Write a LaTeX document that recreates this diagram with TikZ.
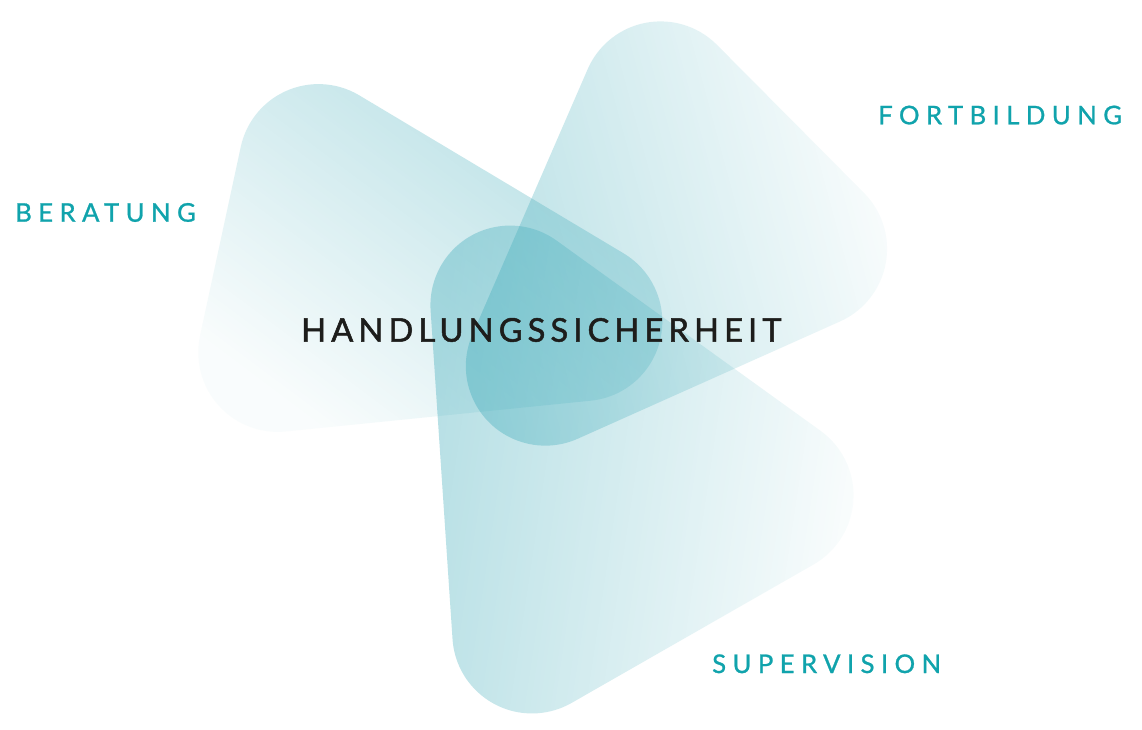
\documentclass[tikz,border=0pt]{standalone}
\usepackage{fontspec}
\setmainfont{Lato}
\newfontfamily\labelfont[LetterSpace=25, FakeBold=1]{Lato}
\newfontfamily\centrefont[LetterSpace=15.5, FakeBold=1.5]{Lato}
\usetikzlibrary{calc,fadings}

\definecolor{tealLabel}{RGB}{16,163,172}
\definecolor{darkText}{RGB}{29,29,27}
\definecolor{tealFill}{RGB}{60,170,185}

\tikzfading[name=fadeout, top color=transparent!0, bottom color=transparent!92]

% rounded triangle round three corner centres (counter-clockwise), radius #4
\newcommand{\rtri}[4]{
  let \p1=(#1), \p2=(#2), \p3=(#3),
      \n1={atan2(\y2-\y1,\x2-\x1)}, \n2={atan2(\y3-\y2,\x3-\x2)},
      \n3={atan2(\y1-\y3,\x1-\x3)},
      \n4={mod(\n1-\n3+720,360)}, \n5={mod(\n2-\n1+720,360)},
      \n6={mod(\n3-\n2+720,360)}
  in ($(\p1)+(\n3-90:#4)$) arc[start angle=\n3-90, delta angle=\n4, radius=#4]
  -- ($(\p2)+(\n1-90:#4)$) arc[start angle=\n1-90, delta angle=\n5, radius=#4]
  -- ($(\p3)+(\n2-90:#4)$) arc[start angle=\n2-90, delta angle=\n6, radius=#4]
  -- cycle}

\begin{document}
\begin{tikzpicture}[x=1pt,y=1pt,
    blob/.style={fill=tealFill, fill opacity=0.37, path fading=fadeout},
    lbl/.style={anchor=base west, inner sep=0pt, text=tealLabel,
                font=\labelfont\fontsize{25.7}{30}\selectfont},
    centre/.style={anchor=base west, inner sep=0pt, text=darkText,
                font=\centrefont\fontsize{32.7}{38}\selectfont}]

  \fill[white] (0,0) rectangle (1142,-730);
  \useasboundingbox (0,0) rectangle (1142,-730);

  % corner centres
  \coordinate (b1) at (322,-163);
  \coordinate (b2) at (281,-353);
  \coordinate (b3) at (588,-322);
  \coordinate (f1) at (657,-98);
  \coordinate (f2) at (541,-365);
  \coordinate (f3) at (805,-247);
  \coordinate (s1) at (508,-302);
  \coordinate (s2) at (530,-632);
  \coordinate (s3) at (773,-493);

  \fill[blob, fading angle=-45] \rtri{b1}{b2}{b3}{80pt};
  \fill[blob, fading angle=105] \rtri{f1}{f2}{f3}{80pt};
  \fill[blob, fading angle=80] \rtri{s1}{s2}{s3}{80pt};

  \node[lbl] (beratung) at (15,-221.7) {BERATUNG};
  \node[lbl] (fortbildung) at (878,-124.3) {FORTBILDUNG};
  \node[lbl] (supervision) at (712,-673) {SUPERVISION};
  \node[centre] (handlung) at (301,-341.7) {HANDLUNGSSICHERHEIT};
\end{tikzpicture}
\end{document}
